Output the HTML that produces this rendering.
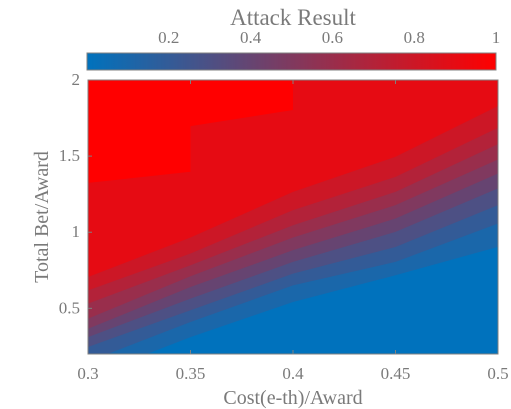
<!DOCTYPE html>
<html><head><meta charset="utf-8"><style>
html,body{margin:0;padding:0;background:#fff;}
svg{display:block;font-family:"Liberation Serif",serif;}
</style></head><body>
<svg id="c" width="511" height="409" viewBox="0 0 511 409">
<defs><linearGradient id="cg" x1="0" x2="1" y1="0" y2="0">
<stop offset="0" stop-color="rgb(0,114,189)"/><stop offset="1" stop-color="rgb(255,0,0)"/></linearGradient>
<clipPath id="pc"><rect x="88" y="80" width="410" height="274"/></clipPath></defs>
<g id="plot" clip-path="url(#pc)"></g>
<rect x="88" y="80" width="410" height="274" fill="none" stroke="#808080" stroke-width="1"/>
<g id="axes"></g>
<text x="293" y="25" text-anchor="middle" font-size="23" fill="#7a7a7a">Attack Result</text>
<rect x="87" y="53" width="409" height="17" fill="url(#cg)" stroke="#808080"/>
<text x="293" y="404" text-anchor="middle" font-size="20" fill="#7a7a7a">Cost(e-th)/Award</text>
<text transform="translate(48,217) rotate(-90)" text-anchor="middle" font-size="20" fill="#7a7a7a">Total Bet/Award</text>
</svg>
<script>
const xCols=[0.3,0.35,0.4,0.45,0.5];
// contour boundaries (y-value at each x column), from lowest level to highest
const bound10=[0.05,0.311,0.542,0.717,0.904];
const bound9=[0.15,0.410,0.651,0.805,1.057];
const bound8=[0.246,0.487,0.728,0.903,1.178];
const bound7=[0.311,0.564,0.805,1.002,1.288];
const bound6=[0.366,0.640,0.882,1.090,1.386];
const bound5=[0.432,0.711,0.965,1.178,1.478];
const bound4=[0.531,0.783,1.046,1.265,1.579];
const bound3=[0.618,0.860,1.145,1.364,1.686];
const bound2=[0.706,0.965,1.265,1.496,1.829];
// top (value 1) region outline
const topX=[0.3,0.35,0.35,0.4,0.4];
const topY=[1.324,1.397,1.697,1.803,2.0];
const levels=[0.1,0.2,0.3,0.4,0.5,0.6,0.7,0.8,0.9];
const xTicks=[0.3,0.35,0.4,0.45,0.5];
const xTickLabels=["0.3","0.35","0.4","0.45","0.5"];
const yTicks=[0.5,1,1.5,2];
const yTickLabels=["0.5","1","1.5","2"];
const cbTicks=[0.2,0.4,0.6,0.8,1];
const cbTickLabels=["0.2","0.4","0.6","0.8","1"];

const X=v=>88+(v-0.3)/0.2*410;
const Y=v=>354-(v-0.2)/1.8*274;
const CB=v=>87+v*409;
function col(t){return `rgb(${Math.round(255*t)},${Math.round(114*(1-t))},${Math.round(189*(1-t))})`;}
const NS="http://www.w3.org/2000/svg";
const plot=document.getElementById('plot'),axes=document.getElementById('axes');
const bg=document.createElementNS(NS,'rect');
bg.setAttribute('x',88);bg.setAttribute('y',80);bg.setAttribute('width',410);bg.setAttribute('height',274);bg.setAttribute('fill',col(0));


plot.appendChild(bg);
const bounds=[bound10,bound9,bound8,bound7,bound6,bound5,bound4,bound3,bound2];
bounds.forEach((b,i)=>{
  let pts=xCols.map((x,j)=>X(x)+','+Y(b[j]));
  pts.push(X(0.5)+','+(Y(2)-2));pts.push(X(0.3)+','+(Y(2)-2));
  const p=document.createElementNS(NS,'polygon');
  p.setAttribute('points',pts.join(' '));p.setAttribute('fill',col(levels[i]));
  
  
  plot.appendChild(p);
});
{
  let pts=topX.map((x,j)=>X(x)+','+Y(topY[j]));
  pts.push(X(0.3)+','+(Y(2)-2));
  const p=document.createElementNS(NS,'polygon');
  p.setAttribute('points',pts.join(' '));p.setAttribute('fill',col(1));
  
  
  plot.appendChild(p);
}
function line(x1,y1,x2,y2,name){const l=document.createElementNS(NS,'line');l.setAttribute('x1',x1);l.setAttribute('y1',y1);l.setAttribute('x2',x2);l.setAttribute('y2',y2);l.setAttribute('stroke','#808080');


axes.appendChild(l);}
function text(x,y,s,anchor,name){const t=document.createElementNS(NS,'text');t.setAttribute('x',x);t.setAttribute('y',y);t.setAttribute('text-anchor',anchor);t.setAttribute('font-size','17');t.setAttribute('fill','#7a7a7a');t.textContent=s;


axes.appendChild(t);}
xTicks.forEach((v,i)=>{line(X(v),354,X(v),350,'x-tick');line(X(v),80,X(v),84,'x-tick-top');text(X(v),379,xTickLabels[i],'middle','x-tick-label');});
yTicks.forEach((v,i)=>{line(88,Y(v),92,Y(v),'y-tick');text(80,Y(v)+5,yTickLabels[i],'end','y-tick-label');});
cbTicks.forEach((v,i)=>{line(CB(v),53,CB(v),56,'colorbar-tick');text(CB(v),43,cbTickLabels[i],'middle','colorbar-tick-label');});
</script>
</body></html>
